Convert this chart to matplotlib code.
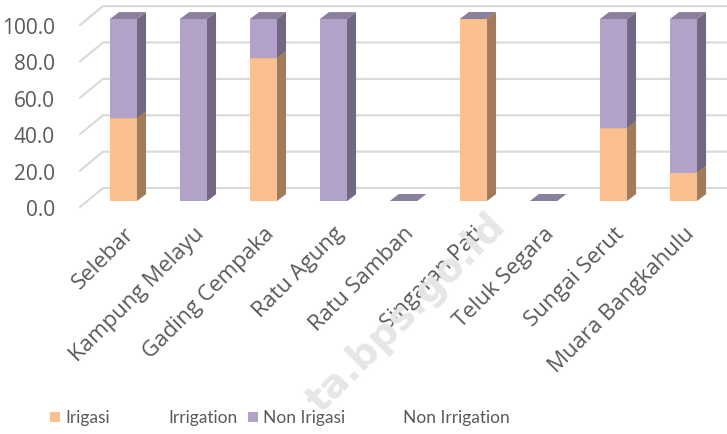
import matplotlib.pyplot as plt
import matplotlib.transforms as mtransforms
from matplotlib.patches import Polygon, Rectangle

categories = ["Selebar", "Kampung Melayu", "Gading Cempaka", "Ratu Agung", "Ratu Samban",
              "Singaran Pati", "Teluk Segara", "Sungai Serut", "Muara Bangkahulu"]
irigasi = [45.5, 0.0, 78.5, 0.0, 0.0, 100.0, 0.0, 40.0, 15.5]
non_irigasi = [54.5, 100.0, 21.5, 100.0, 0.0, 0.0, 0.0, 60.0, 84.5]
series_id = ["Irigasi", "Non Irigasi"]
series_en = ["Irrigation", "Non Irrigation"]
y_ticks = [0, 20, 40, 60, 80, 100]

# front, side, top shades per series
colors = [
    ("#FAC090", "#A27C58", "#B89068"),
    ("#B3A2C7", "#726883", "#8B7F9E"),
]

W = 0.386      # bar width in category units
DX = 0.129     # depth offset (x)
DY = 3.8       # depth offset (y)

fig = plt.figure(figsize=(7.27, 4.35), dpi=100)
ax = fig.add_axes([80 / 727, 220 / 435, 647 / 727, 215 / 435])
ax.set_xlim(-0.621, 8.621)
ax.set_ylim(-7.14, 111.0)
for s in ax.spines.values():
    s.set_visible(False)

# back-wall gridlines with a short diagonal on the left
for v in y_ticks:
    ax.plot([-0.621, -0.293, 8.7], [v - 3.3, v + 7.1, v + 7.1],
            color="#d9d9d9", lw=1.5, clip_on=False, zorder=1)


def draw_segment(x, bottom, height, front, side, top):
    x0, x1 = x - W / 2, x + W / 2
    y0, y1 = bottom, bottom + height
    if height > 0:
        ax.add_patch(Rectangle((x0, y0), W, height, facecolor=front, edgecolor="none", zorder=3))
        ax.add_patch(Polygon([(x1, y0), (x1 + DX, y0 + DY), (x1 + DX, y1 + DY), (x1, y1)],
                             facecolor=side, edgecolor="none", zorder=3))
    ax.add_patch(Polygon([(x0, y1), (x0 + DX, y1 + DY), (x1 + DX, y1 + DY), (x1, y1)],
                         facecolor=top, edgecolor="none", zorder=3))


for i in range(len(categories)):
    bottom = 0.0
    for vals, (front, side, top) in zip([irigasi, non_irigasi], colors):
        draw_segment(i, bottom, vals[i], front, side, top)
        bottom += vals[i]

# y axis labels
ax.set_yticks(y_ticks)
ax.set_yticklabels([f"{v:.1f}" for v in y_ticks], fontsize=15, color="#595959",
                   fontfamily="Open Sans")
ax.tick_params(axis="y", length=0, pad=18)
shift = mtransforms.ScaledTranslation(0, -6 / 100, fig.dpi_scale_trans)
for lab in ax.get_yticklabels():
    lab.set_transform(lab.get_transform() + shift)

# category labels
ax.set_xticks(range(len(categories)))
ax.set_xticklabels(categories, rotation=45, ha="right", rotation_mode="anchor",
                   fontsize=16, color="#595959", fontfamily="Open Sans")
ax.tick_params(axis="x", length=0, pad=6)

# watermark
fig.text(500 / 727, 1 - 220 / 435, "ta.bps.go.id", rotation=45,
         rotation_mode="anchor", ha="right", va="center", fontsize=28,
         fontweight="bold", color="#e6e6e6", zorder=0)

# legend
leg_y = 1 - 418 / 435
for k, (sq_x, id_x, en_x) in enumerate([(50, 65, 168), (248, 263, 403)]):
    fig.add_artist(Rectangle((sq_x / 727, 1 - 423 / 435), 10 / 727, 10 / 435,
                             facecolor=colors[k][0], edgecolor="none",
                             transform=fig.transFigure))
    fig.text(id_x / 727, leg_y, series_id[k], fontsize=12.5, color="#595959",
             va="center", fontfamily="Lato")
    fig.text(en_x / 727, leg_y, series_en[k], fontsize=12.5, color="#595959",
             va="center", fontfamily="Lato")

fig.savefig("out.png", dpi=100)
